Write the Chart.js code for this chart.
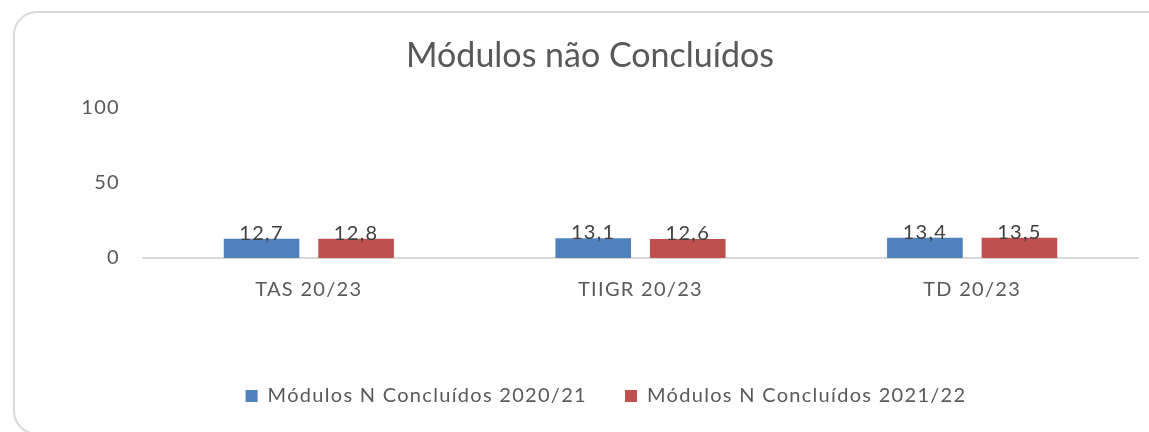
<!DOCTYPE html>
<html>
<head>
<meta charset="utf-8">
<script src="https://cdn.jsdelivr.net/npm/chart.js@4/dist/chart.umd.min.js"></script>
<style>
html,body{margin:0;padding:0;background:#fff;overflow:hidden;}
#card{position:absolute;left:13px;top:11px;width:1170px;height:424px;border:2px solid #d9d9d9;border-radius:24px;box-sizing:border-box;}
#wrap{position:absolute;left:0;top:0;width:1149px;height:432px;}
</style>
</head>
<body>
<div id="card"></div>
<div id="wrap"><canvas id="c" width="1149" height="432"></canvas></div>
<script>
const categories = ["TAS 20/23", "TIIGR 20/23", "TD 20/23"];
const series2020 = [12.7, 13.1, 13.4];
const series2021 = [12.8, 12.6, 13.5];
const seriesNames = ["Módulos N Concluídos 2020/21", "Módulos N Concluídos 2021/22"];
const yTicks = [0, 50, 100];
const titleText = "Módulos não Concluídos";

const FONT = "Lato, 'Open Sans', sans-serif";
const SPACING = '1.3px';

const spacingPlugin = {
  id: 'spacing',
  beforeUpdate(chart) { chart.ctx.letterSpacing = SPACING; },
  beforeLayout(chart) { chart.ctx.letterSpacing = SPACING; },
  beforeDraw(chart) { chart.ctx.letterSpacing = SPACING; }
};

const titleDraw = {
  id: 'titleDraw',
  afterDraw(chart) {
    const t = chart.titleBlock;
    const ctx = chart.ctx;
    ctx.save();
    ctx.letterSpacing = '0px';
    ctx.font = "34px " + FONT;
    ctx.fillStyle = "#595959";
    ctx.textAlign = "center";
    ctx.textBaseline = "middle";
    ctx.fillText(titleText, 590, t.top + 9 + t.height / 2 - 22);
    ctx.restore();
  }
};

const valueLabels = {
  id: 'valueLabels',
  afterDatasetsDraw(chart) {
    const ctx = chart.ctx;
    ctx.save();
    ctx.letterSpacing = SPACING;
    ctx.font = "20px " + FONT;
    ctx.fillStyle = "#404040";
    ctx.textAlign = "center";
    ctx.textBaseline = "alphabetic";
    chart.data.datasets.forEach((ds, i) => {
      const meta = chart.getDatasetMeta(i);
      meta.data.forEach((bar, j) => {
        const v = ds.data[j];
        ctx.fillText(v.toFixed(1).replace('.', ','), bar.x, bar.y + 1);
      });
    });
    ctx.restore();
  }
};

new Chart(document.getElementById('c'), {
  type: 'bar',
  data: {
    labels: categories,
    datasets: [
      { label: seriesNames[0], data: series2020, backgroundColor: '#4f81bd', borderWidth: 0 },
      { label: seriesNames[1], data: series2021, backgroundColor: '#c0504d', borderWidth: 0 }
    ]
  },
  options: {
    responsive: false,
    animation: false,
    layout: { padding: { left: 74, right: 11, top: 30, bottom: 16 } },
    categoryPercentage: 0.57,
    barPercentage: 0.80,
    plugins: {
      title: {
        display: true, text: titleText, color: 'rgba(0,0,0,0)',
        font: { family: FONT, size: 32, weight: 'normal' },
        padding: { top: 6, bottom: 33 }
      },
      legend: {
        position: 'bottom',
        labels: {
          color: '#595959', font: { family: FONT, size: 20 },
          boxWidth: 12, boxHeight: 12, padding: 38
        }
      },
      tooltip: { enabled: false }
    },
    scales: {
      x: {
        afterFit(scale) { scale.height += 26; },
        grid: { display: false, drawTicks: false },
        border: { display: true, color: '#d9d9d9', width: 2 },
        ticks: { color: '#595959', font: { family: FONT, size: 20 }, padding: 20 }
      },
      y: {
        min: 0, max: 100,
        afterBuildTicks(scale) { scale.ticks = yTicks.map(v => ({ value: v })); },
        afterFit(scale) { scale.width = 69; },
        grid: { display: false, drawTicks: false },
        border: { display: false },
        ticks: { color: '#595959', font: { family: FONT, size: 20 }, padding: 23 }
      }
    }
  },
  plugins: [spacingPlugin, valueLabels, titleDraw]
});
</script>
</body>
</html>
